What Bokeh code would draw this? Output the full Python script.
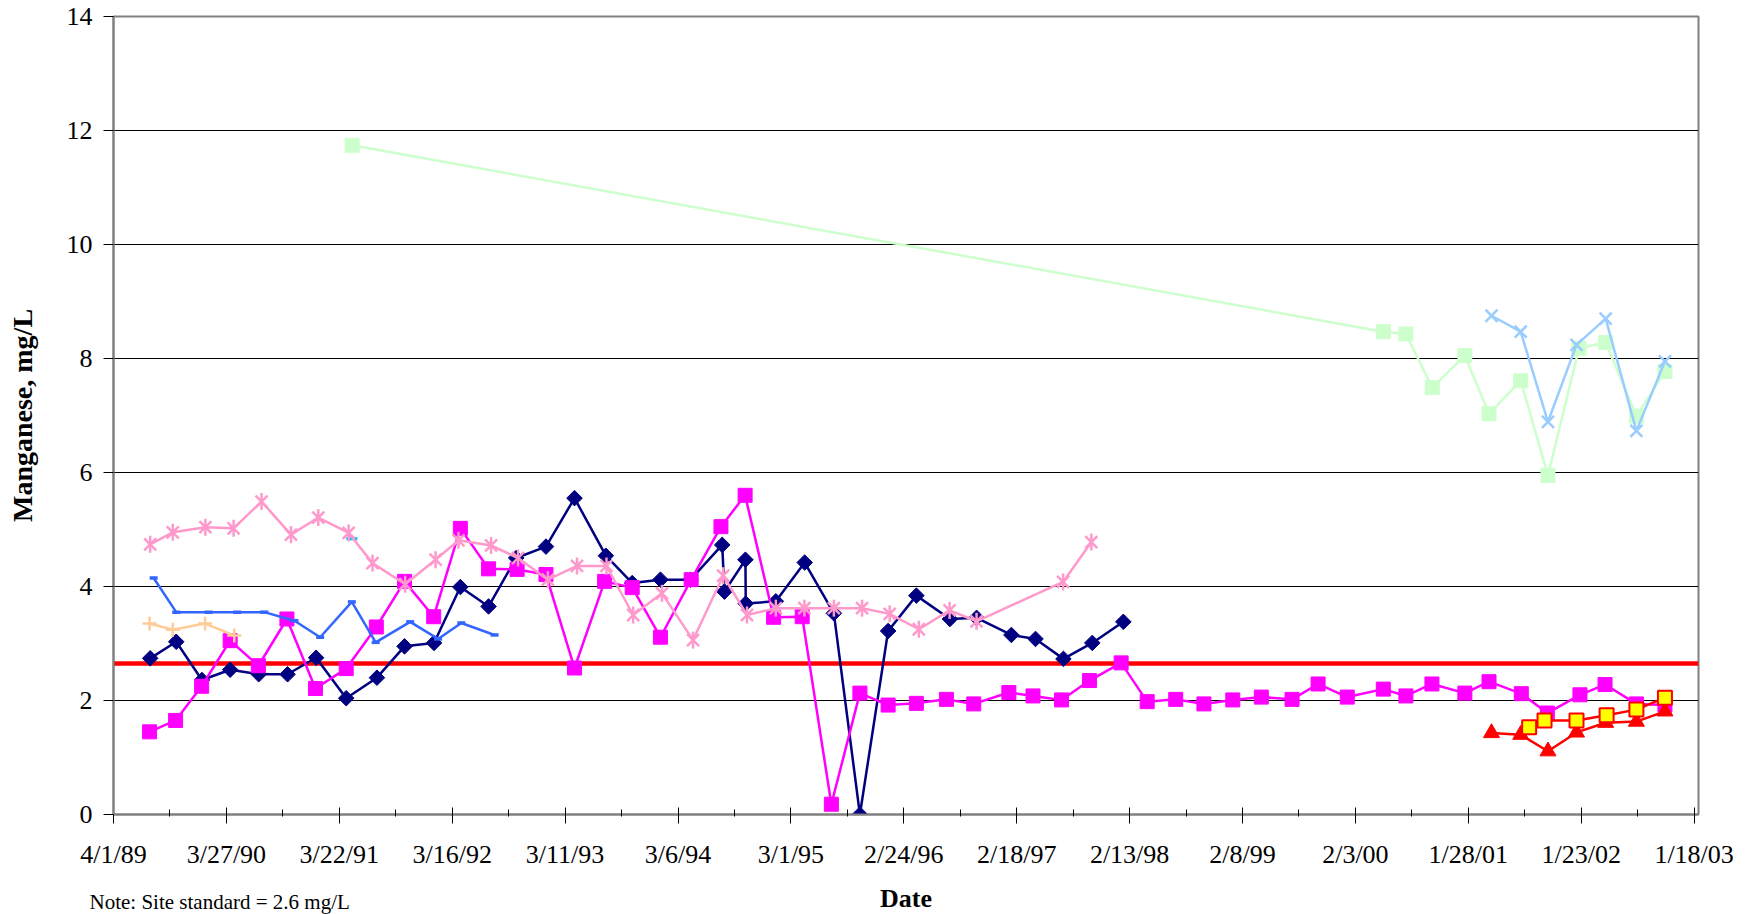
import math
import pandas as pd
from bokeh.plotting import figure
from bokeh.layouts import column
from bokeh.models import FixedTicker, Span, Range1d
from bokeh.core.properties import value
from bokeh.embed import file_html
from bokeh.resources import INLINE

# ---------------- data ----------------
BASE_DATE = "1989-04-01"          # first tick of the date axis
TICK_STEP_DAYS = 360              # Excel major unit
x_tick_labels = ["4/1/89", "3/27/90", "3/22/91", "3/16/92", "3/11/93", "3/6/94",
                 "3/1/95", "2/24/96", "2/18/97", "2/13/98", "2/8/99", "2/3/00",
                 "1/28/01", "1/23/02", "1/18/03"]
y_ticks = [0, 2, 4, 6, 8, 10, 12, 14]
site_standard_line = 2.65
x_title = "Date"
y_title = "Manganese, mg/L"
note_text = "Note:  Site standard = 2.6 mg/L"

navy_dates = ["1989-07-27", "1989-10-18", "1990-01-08", "1990-04-08", "1990-07-08",
              "1990-10-08", "1991-01-07", "1991-04-13", "1991-07-20", "1991-10-16",
              "1992-01-18", "1992-04-11", "1992-07-10", "1992-10-06", "1993-01-09",
              "1993-04-10", "1993-07-19", "1993-10-11", "1994-01-09", "1994-04-15",
              "1994-07-25", "1994-08-01", "1994-10-07", "1994-10-08", "1995-01-12",
              "1995-04-14", "1995-07-16", "1995-10-07", "1996-01-05", "1996-04-04",
              "1996-07-20", "1996-10-13", "1997-02-01", "1997-04-19", "1997-07-17",
              "1997-10-17", "1998-01-24"]
navy_values = [2.74, 3.03, 2.36, 2.54, 2.46, 2.46, 2.75, 2.04, 2.40, 2.95,
               3.01, 3.99, 3.65, 4.50, 4.70, 5.55, 4.54, 4.06, 4.12, 4.12,
               4.73, 3.91, 4.47, 3.70, 3.74, 4.42, 3.53, 0.0, 3.22, 3.84,
               3.43, 3.45, 3.15, 3.08, 2.73, 3.01, 3.38]

magenta_dates = ["1989-07-25", "1989-10-16", "1990-01-07", "1990-04-08", "1990-07-07",
                 "1990-10-06", "1991-01-05", "1991-04-13", "1991-07-18", "1991-10-16",
                 "1992-01-17", "1992-04-11", "1992-07-10", "1992-10-09", "1993-01-09",
                 "1993-04-10", "1993-07-15", "1993-10-11", "1994-01-09", "1994-04-17",
                 "1994-07-21", "1994-10-06", "1995-01-05", "1995-04-06", "1995-07-08",
                 "1995-10-07", "1996-01-05", "1996-04-04", "1996-07-09", "1996-10-04",
                 "1997-01-24", "1997-04-11", "1997-07-11", "1997-10-08", "1998-01-17",
                 "1998-04-10", "1998-07-10", "1998-10-08", "1999-01-08", "1999-04-09",
                 "1999-07-16", "1999-10-07", "2000-01-08", "2000-05-02", "2000-07-13",
                 "2000-10-04", "2001-01-17", "2001-04-04", "2001-07-16", "2001-10-07",
                 "2002-01-19", "2002-04-09", "2002-07-18", "2002-10-17"]
magenta_values = [1.45, 1.65, 2.25, 3.05, 2.61, 3.43, 2.21, 2.56, 3.29, 4.09,
                  3.47, 5.02, 4.31, 4.30, 4.21, 2.57, 4.09, 3.98, 3.11, 4.12,
                  5.05, 5.60, 3.46, 3.47, 0.18, 2.13, 1.92, 1.95, 2.02, 1.94,
                  2.14, 2.08, 2.01, 2.35, 2.66, 1.98, 2.02, 1.94, 2.01, 2.06,
                  2.02, 2.29, 2.06, 2.20, 2.08, 2.29, 2.13, 2.33, 2.12, 1.78,
                  2.10, 2.28, 1.94, 1.92]

pink_dates = ["1989-07-27", "1989-10-07", "1990-01-19", "1990-04-19", "1990-07-17",
              "1990-10-19", "1991-01-14", "1991-04-21", "1991-07-06", "1991-10-18",
              "1992-01-23", "1992-04-05", "1992-07-18", "1992-10-12", "1993-01-15",
              "1993-04-18", "1993-07-21", "1993-10-14", "1994-01-14", "1994-04-23",
              "1994-07-28", "1994-10-12", "1995-01-12", "1995-04-13", "1995-07-16",
              "1995-10-14", "1996-01-10", "1996-04-12", "1996-07-19", "1996-10-13",
              "1997-07-16", "1997-10-14"]
pink_values = [4.74, 4.95, 5.04, 5.02, 5.49, 4.91, 5.21, 4.94, 4.41, 4.04,
               4.47, 4.81, 4.72, 4.50, 4.12, 4.36, 4.36, 3.50, 3.88, 3.06,
               4.19, 3.50, 3.62, 3.62, 3.62, 3.62, 3.52, 3.25, 3.58, 3.39,
               4.08, 4.78]

blue_dates = ["1989-08-07", "1989-10-18", "1990-01-29", "1990-04-30", "1990-07-26",
              "1990-10-30", "1991-01-20", "1991-05-01", "1991-07-16", "1991-11-03",
              "1992-01-31", "1992-04-14", "1992-07-29"]
blue_values = [4.15, 3.55, 3.55, 3.55, 3.55, 3.40, 3.11, 3.73, 3.02, 3.38,
               3.08, 3.36, 3.15]

orange_dates = ["1989-07-25", "1989-10-07", "1990-01-18", "1990-04-21"]
orange_values = [3.35, 3.24, 3.35, 3.14]

cyan_dates = ["1991-05-01"]
cyan_values = [4.84]

green_dates = ["1991-05-02", "2000-05-02", "2000-07-13", "2000-10-05", "2001-01-17",
               "2001-04-04", "2001-07-14", "2001-10-09", "2002-01-16", "2002-04-11",
               "2002-07-18", "2002-10-17"]
green_values = [11.74, 8.47, 8.43, 7.49, 8.05, 7.03, 7.61, 5.95, 8.18, 8.28,
                6.99, 7.77]

lightblue_dates = ["2001-04-12", "2001-07-14", "2001-10-09", "2002-01-08", "2002-04-11",
                   "2002-07-18", "2002-10-17"]
lightblue_values = [8.75, 8.47, 6.89, 8.24, 8.70, 6.73, 7.95]

red_dates = ["2001-04-12", "2001-07-14", "2001-10-09", "2002-01-08", "2002-04-11",
             "2002-07-18", "2002-10-17"]
red_values = [1.43, 1.40, 1.11, 1.44, 1.61, 1.63, 1.81]

yellow_dates = ["2001-08-10", "2001-09-28", "2002-01-08", "2002-04-14", "2002-07-18",
                "2002-10-17"]
yellow_values = [1.53, 1.65, 1.65, 1.74, 1.84, 2.05]

# ---------------- helpers ----------------
base = pd.Timestamp(BASE_DATE)


def days(dates):
    return [(pd.Timestamp(d) - base).days for d in dates]


FONT = "Liberation Serif"
X_END = 5054
W = 1754
BORDER_L, BORDER_R = 113, 56
MAIN_H = 878
FOOT_H = 914 - MAIN_H

p = figure(width=W, height=MAIN_H, output_backend="svg", toolbar_location=None,
           x_range=Range1d(0, X_END), y_range=Range1d(0, 14),
           min_border_left=BORDER_L, min_border_right=BORDER_R, min_border_top=16,
           min_border_bottom=64, background_fill_color="white",
           border_fill_color="white")
p.frame_align = False
p.outline_line_color = "#808080"
p.outline_line_width = 2

# axes
major = [i * TICK_STEP_DAYS for i in range(len(x_tick_labels))]
minor = [m + TICK_STEP_DAYS // 2 for m in major[:-1]]
p.xaxis.ticker = FixedTicker(ticks=major, minor_ticks=minor)
p.xaxis.major_label_overrides = {t: lab for t, lab in zip(major, x_tick_labels)}
p.yaxis.ticker = FixedTicker(ticks=y_ticks)

for ax in (p.xaxis[0], p.yaxis[0]):
    ax.axis_line_color = "#808080"
    ax.axis_line_width = 2
    ax.major_tick_line_color = "black"
    ax.minor_tick_line_color = "black"
    ax.major_label_text_font = FONT
    ax.major_label_text_font_size = "26px"
    ax.major_label_text_color = "black"

p.xaxis.major_tick_in = 7
p.xaxis.major_tick_out = 9
p.xaxis.minor_tick_in = 5
p.xaxis.minor_tick_out = 2
p.xaxis.major_label_standoff = 16
p.yaxis.major_tick_in = 0
p.yaxis.major_tick_out = 10
p.yaxis.minor_tick_line_color = None
p.yaxis.major_label_standoff = 11
p.yaxis.axis_label = y_title
p.yaxis.axis_label_text_font = FONT
p.yaxis.axis_label_text_font_size = "28px"
p.yaxis.axis_label_text_font_style = "bold"
p.yaxis.axis_label_text_color = "black"
p.yaxis.axis_label_standoff = 26

p.xgrid.visible = False
p.ygrid.grid_line_color = "black"
p.ygrid.grid_line_width = 1

# site standard line
p.add_layout(Span(location=site_standard_line, dimension="width", line_color="#FF0000",
                  line_width=4.5, level="underlay"))

# ---------------- series ----------------
x = days(navy_dates)
p.line(x, navy_values, line_color="#000080", line_width=2.5)
p.scatter(x, navy_values, marker="square", angle=math.pi / 4, size=11,
          fill_color="#000080", line_color="#000080")

x = days(magenta_dates)
p.line(x, magenta_values, line_color="#FF00FF", line_width=2.5)
p.scatter(x, magenta_values, marker="square", size=14,
          fill_color="#FF00FF", line_color="#FF00FF")

x = days(blue_dates)
p.line(x, blue_values, line_color="#3366FF", line_width=2.5)
p.scatter(x, blue_values, marker="dash", size=8, line_color="#3366FF", line_width=3.5)

x = days(orange_dates)
p.line(x, orange_values, line_color="#FFCC99", line_width=2.5)
p.scatter(x, orange_values, marker="cross", size=14, line_color="#FFCC99", line_width=2.5)

x = days(cyan_dates)
p.scatter(x, cyan_values, marker="dash", size=11, line_color="#00CCFF", line_width=3.5)

x = days(pink_dates)
p.line(x, pink_values, line_color="#FF99CC", line_width=2.5)
p.scatter(x, pink_values, marker="x", size=17, line_color="#FF99CC", line_width=2.5)
p.scatter(x, pink_values, marker="dash", angle=math.pi / 2, size=17,
          line_color="#FF99CC", line_width=2.5)

x = days(green_dates)
p.line(x, green_values, line_color="#CCFFCC", line_width=2.5)
p.scatter(x, green_values, marker="square", size=14,
          fill_color="#CCFFCC", line_color="#CCFFCC")

x = days(lightblue_dates)
p.line(x, lightblue_values, line_color="#99CCFF", line_width=2.5)
p.scatter(x, lightblue_values, marker="x", size=17, line_color="#99CCFF", line_width=2.5)

x = days(red_dates)
p.line(x, red_values, line_color="#FF0000", line_width=2.5)
p.scatter(x, red_values, marker="triangle", size=16,
          fill_color="#FF0000", line_color="#FF0000")

x = days(yellow_dates)
p.line(x, yellow_values, line_color="#FF0000", line_width=2.5)
p.scatter(x, yellow_values, marker="square", size=14, fill_color="#FFFF00",
          line_color="#FF0000", line_width=2)

# ---------------- footer strip: axis title "Date" and the note ----------------
px_per_day = (W - BORDER_L - BORDER_R) / X_END
foot = figure(width=W, height=FOOT_H, output_backend="svg", toolbar_location=None,
              x_range=Range1d(-BORDER_L / px_per_day, X_END + BORDER_R / px_per_day),
              y_range=Range1d(0, FOOT_H), x_axis_location=None, y_axis_location=None,
              min_border=0, min_border_left=0, min_border_right=0,
              min_border_top=0, min_border_bottom=0,
              background_fill_color="white", border_fill_color="white")
foot.frame_align = False
foot.outline_line_color = None
foot.xgrid.visible = False
foot.ygrid.visible = False
foot.text(x=[X_END / 2], y=[FOOT_H - 20], text=[x_title], text_align="center",
          text_baseline="middle", text_font=value(FONT), text_font_size="26px",
          text_font_style="bold", text_color="black")
foot.text(x=[-24 / px_per_day], y=[FOOT_H - 23], text=[note_text], text_align="left",
          text_baseline="middle", text_font=value(FONT), text_font_size="21px",
          text_color="black")

layout = column(p, foot, spacing=0)
open("out.html", "w").write(file_html(layout, INLINE))
